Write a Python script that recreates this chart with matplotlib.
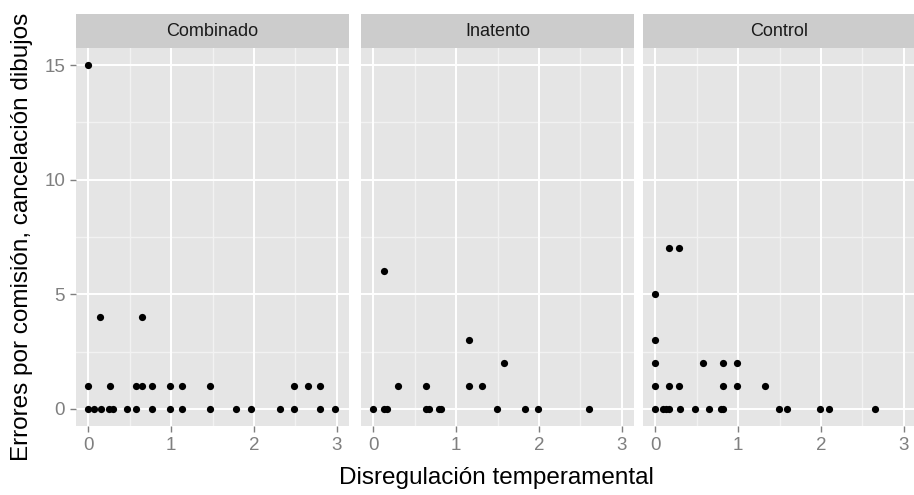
import matplotlib
matplotlib.use("Agg")
import matplotlib.pyplot as plt

plt.rcParams['font.family'] = ['Liberation Sans', 'DejaVu Sans']

# data
grupos = ["Combinado", "Inatento", "Control"]

comb_x = [0, 0.14, 0.65,
          0, 0.26, 0.57, 0.65, 0.77, 0.99, 1.13, 1.47, 2.48, 2.65, 2.80,
          0, 0.07, 0.15, 0.25, 0.30, 0.47, 0.58, 0.77, 0.99, 1.13, 1.47,
          1.79, 1.97, 2.31, 2.48, 2.80, 2.98]
comb_y = [15, 4, 4] + [1] * 11 + [0] * 17

inat_x = [0.13, 1.15, 1.58,
          0.30, 0.64, 1.15, 1.31,
          0, 0.13, 0.16, 0.64, 0.67, 0.79, 0.82, 1.49, 1.83, 1.99, 2.60]
inat_y = [6, 3, 2] + [1] * 4 + [0] * 11

ctrl_x = [0.16, 0.29, 0, 0,
          0, 0.58, 0.82, 0.99,
          0, 0.16, 0.29, 0.82, 0.99, 1.33,
          0, 0.09, 0.13, 0.17, 0.30, 0.48, 0.65, 0.79, 0.82, 1.49, 1.59,
          1.99, 2.10, 2.65]
ctrl_y = [7, 7, 5, 3] + [2] * 4 + [1] * 6 + [0] * 14

datos = {"Combinado": (comb_x, comb_y),
         "Inatento": (inat_x, inat_y),
         "Control": (ctrl_x, ctrl_y)}

x_ticks = [0, 1, 2, 3]
y_ticks = [0, 5, 10, 15]

W, H = 914, 495
fig = plt.figure(figsize=(W / 100, H / 100), dpi=100)

panel_left = [76, 361, 643]
panel_w = 273
top, bottom = 48, 426
strip_top = 14

for i, g in enumerate(grupos):
    x0 = panel_left[i]
    ax = fig.add_axes([x0 / W, 1 - bottom / H, panel_w / W, (bottom - top) / H])
    ax.set_facecolor('#E5E5E5')
    for s in ax.spines.values():
        s.set_visible(False)
    ax.set_xlim(-0.15, 3.15)
    ax.set_ylim(-0.75, 15.75)
    # minor grid
    for v in [0.5, 1.5, 2.5]:
        ax.axvline(v, color='#F2F2F2', lw=1, zorder=0)
    for v in [2.5, 7.5, 12.5]:
        ax.axhline(v, color='#F2F2F2', lw=1, zorder=0)
    # major grid
    for v in x_ticks:
        ax.axvline(v, color='white', lw=1.4, zorder=0)
    for v in y_ticks:
        ax.axhline(v, color='white', lw=1.4, zorder=0)
    xs, ys = datos[g]
    ax.scatter(xs, ys, s=27, color='black', zorder=3, linewidths=0)
    ax.set_xticks(x_ticks)
    ax.set_xticklabels([str(t) for t in x_ticks])
    ax.tick_params(axis='both', colors='#7F7F7F', labelcolor='#7F7F7F',
                   labelsize=13.5, length=4.3, width=1, pad=3.5)
    ax.set_yticks(y_ticks)
    if i == 0:
        ax.set_yticklabels([str(t) for t in y_ticks])
    else:
        ax.tick_params(axis='y', left=False, labelleft=False)

    # strip on top of each panel
    sax = fig.add_axes([x0 / W, 1 - top / H, panel_w / W, (top - strip_top) / H])
    sax.set_facecolor('#CCCCCC')
    sax.set_xticks([])
    sax.set_yticks([])
    for s in sax.spines.values():
        s.set_visible(False)
    sax.text(0.5, 0.5, g, ha='center', va='center', fontsize=13,
             color='#1A1A1A', transform=sax.transAxes)

fig.text(496 / W, 1 - 478 / H, 'Disregulación temperamental',
         ha='center', va='center', fontsize=17.5)
fig.text(22 / W, 1 - (top + bottom) / 2 / H, 'Errores por comisión, cancelación dibujos',
         ha='center', va='center', rotation=90, fontsize=17.5)

fig.savefig('out.png', dpi=100)
